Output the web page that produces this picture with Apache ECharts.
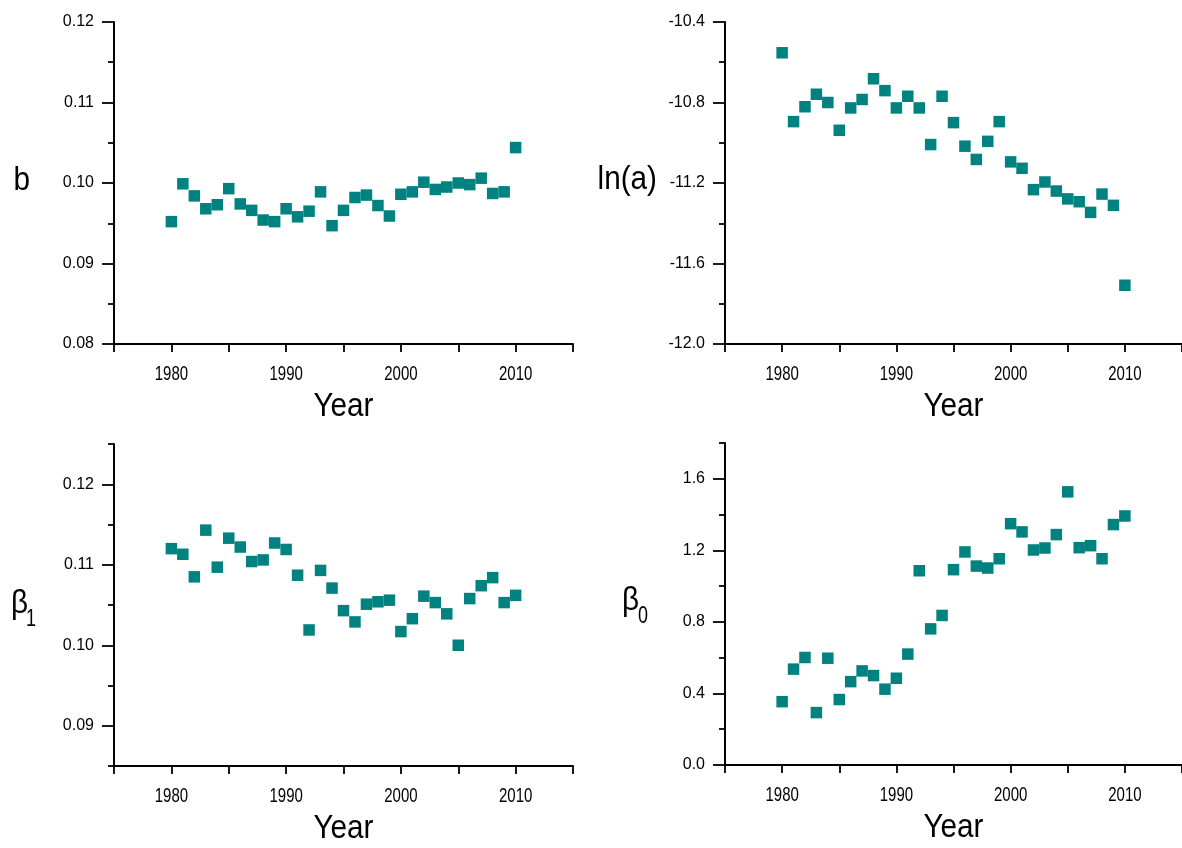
<!DOCTYPE html>
<html><head><meta charset="utf-8">
<script src="https://cdn.jsdelivr.net/npm/echarts@6/dist/echarts.min.js"></script>
<style>html,body{margin:0;padding:0;background:#fff}#c{width:1182px;height:848px}</style>
</head><body><div id="c"></div>
<script>
const years = [1980,1981,1982,1983,1984,1985,1986,1987,1988,1989,1990,1991,1992,1993,1994,1995,1996,1997,1998,1999,2000,2001,2002,2003,2004,2005,2006,2007,2008,2009,2010];
const bValues = [0.0952,0.0999,0.0984,0.0968,0.0973,0.0993,0.0974,0.0966,0.0954,0.0952,0.0968,0.0958,0.0965,0.0989,0.0947,0.0966,0.0982,0.0985,0.0972,0.0959,0.0986,0.0989,0.1001,0.0992,0.0995,0.1000,0.0998,0.1006,0.0987,0.0989,0.1044];
const lnaValues = [-10.553,-10.895,-10.821,-10.759,-10.800,-10.938,-10.827,-10.785,-10.682,-10.741,-10.827,-10.769,-10.827,-11.009,-10.769,-10.900,-11.017,-11.083,-10.993,-10.895,-11.095,-11.127,-11.233,-11.195,-11.240,-11.279,-11.293,-11.346,-11.255,-11.311,-11.708];
const beta1Values = [0.1120,0.1113,0.1085,0.1143,0.1097,0.1133,0.1122,0.1104,0.1106,0.1127,0.1119,0.1087,0.1019,0.1093,0.1071,0.1043,0.1029,0.1051,0.1054,0.1056,0.1017,0.1033,0.1061,0.1053,0.1039,0.1000,0.1058,0.1074,0.1084,0.1053,0.1062];
const beta0Values = [0.354,0.536,0.601,0.293,0.597,0.366,0.466,0.526,0.500,0.424,0.485,0.620,1.086,0.761,0.836,1.092,1.191,1.112,1.101,1.153,1.349,1.303,1.202,1.213,1.288,1.527,1.215,1.226,1.153,1.344,1.392];

const xTickValues = [1975,1980,1985,1990,1995,2000,2005,2010,2015];
const xLabelValues = [1980,1990,2000,2010];
const bLabels = [0.08,0.09,0.10,0.11,0.12];
const bMinorTicks = [0.085,0.095,0.105,0.115];
const lnaLabels = [-12.0,-11.6,-11.2,-10.8,-10.4];
const lnaMinorTicks = [-11.8,-11.4,-11.0,-10.6];
const beta1Labels = [0.09,0.10,0.11,0.12];
const beta1MinorTicks = [0.085,0.095,0.105,0.115,0.125];
const beta0Labels = [0.0,0.4,0.8,1.2,1.6];
const beta0MinorTicks = [0.2,0.6,1.0,1.4,1.8];
const xTitle = 'Year';
const yTitles = [{main:'b', sub:''}, {main:'ln(a)', sub:''}, {main:'β', sub:'1'}, {main:'β', sub:'0'}];

const FONT = "'Liberation Sans', Arial, sans-serif";
const COLOR = '#008280';

const panels = [
  {left:114, top:22, vals:bValues, min:0.08, max:0.12, labels:bLabels, minor:bMinorTicks, dec:2},
  {left:725, top:22, vals:lnaValues, min:-12.0, max:-10.4, labels:lnaLabels, minor:lnaMinorTicks, dec:1},
  {left:114, top:444, vals:beta1Values, min:0.085, max:0.125, labels:beta1Labels, minor:beta1MinorTicks, dec:2},
  {left:725, top:443, vals:beta0Values, min:0.0, max:1.8, labels:beta0Labels, minor:beta0MinorTicks, dec:1}
];
// title anchor tweaks (pixel layout only)
const titleLayout = [
  {x:30, align:'right', dy:-2},
  {x:657, align:'right', dy:-3},
  {x:11, align:'left', dy:-1, subX:26},
  {x:622, align:'left', dy:-3, subX:638}
];

const grid = [], xAxis = [], yAxis = [], series = [];
const lineStyle = {color:'#000', width:2};
panels.forEach((p, i) => {
  grid.push({left:p.left, top:p.top, width:459, height:322});
  xAxis.push({
    type:'value', gridIndex:i, min:1975, max:2015, interval:5,
    axisLine:{show:true, onZero:false, lineStyle},
    axisTick:{show:true, inside:false, length:8, customValues:xTickValues, lineStyle:{color:'#000', width:1.8}},
    axisLabel:{show:false},
    splitLine:{show:false}
  });
  yAxis.push({
    type:'value', gridIndex:i, min:p.min, max:p.max, position:'left',
    axisLine:{show:true, onZero:false, lineStyle},
    axisTick:{show:true, inside:false, length:12, customValues:p.labels, lineStyle:{color:'#000', width:1.8}},
    axisLabel:{show:true, customValues:p.labels, margin:20, fontSize:16, fontFamily:FONT, color:'#000',
      formatter:(v)=>Number(v).toFixed(p.dec)},
    splitLine:{show:false}
  });
  yAxis.push({
    type:'value', gridIndex:i, min:p.min, max:p.max, position:'left', offset:0,
    axisLine:{show:false, onZero:false},
    axisTick:{show:true, inside:false, length:6, customValues:p.minor, lineStyle:{color:'#000', width:1.8}},
    axisLabel:{show:false},
    splitLine:{show:false}
  });
  series.push({
    type:'scatter', xAxisIndex:i, yAxisIndex:i*2,
    symbol:'rect', symbolSize:11.5,
    itemStyle:{color:COLOR, opacity:1},
    data: years.map((y, k) => [y, p.vals[k]]),
    silent:true
  });
});

const chart = echarts.init(document.getElementById('c'), null, {renderer:'canvas'});
chart.setOption({animation:false, backgroundColor:'#fff', grid, xAxis, yAxis, series});

// text drawn through the library's own scales (condensed look via scaleX)
const graphic = [];
panels.forEach((p, i) => {
  const axisY = chart.convertToPixel({gridIndex:i}, [1975, p.min])[1];
  const midY = chart.convertToPixel({gridIndex:i}, [1975, (p.min + p.max) / 2])[1];
  const x0 = chart.convertToPixel({gridIndex:i}, [1975, p.min])[0];
  const x1 = chart.convertToPixel({gridIndex:i}, [2015, p.min])[0];
  xLabelValues.forEach(v => {
    const px = chart.convertToPixel({gridIndex:i}, [v, p.min])[0];
    graphic.push({type:'text', x:px, y:axisY + 30, scaleX:0.75, silent:true,
      style:{text:String(v), fontSize:20, fontFamily:FONT, fill:'#000', align:'center', verticalAlign:'middle'}});
  });
  graphic.push({type:'text', x:(x0 + x1) / 2, y:axisY + 63, scaleX:0.9, silent:true,
    style:{text:xTitle, fontSize:33, fontFamily:FONT, fill:'#000', align:'center', verticalAlign:'middle'}});
  const t = yTitles[i], L = titleLayout[i];
  graphic.push({type:'text', x:L.x, y:midY + L.dy, scaleX:0.9, silent:true,
    style:{text:t.main, fontSize:33, fontFamily:FONT, fill:'#000', align:L.align, verticalAlign:'middle'}});
  if (t.sub) {
    graphic.push({type:'text', x:L.subX, y:midY + L.dy + 15, scaleX:0.75, silent:true,
      style:{text:t.sub, fontSize:24, fontFamily:FONT, fill:'#000', align:'left', verticalAlign:'middle'}});
  }
});
chart.setOption({graphic});
</script>
</body></html>
